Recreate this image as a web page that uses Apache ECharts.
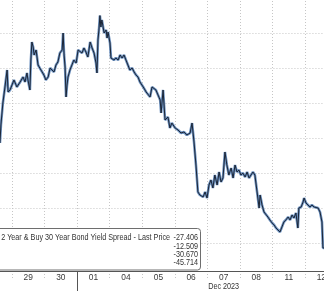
<!DOCTYPE html>
<html><head><meta charset="utf-8">
<script src="https://cdn.jsdelivr.net/npm/echarts/dist/echarts.min.js"></script>
<style>html,body{margin:0;padding:0;background:#fff;overflow:hidden}#c{width:324px;height:291px}</style>
</head><body><div id="c"></div>
<script>
// ---- data ----
const dayLabels = ['28','29','30','01','04','05','06','07','08','11','12'];
const monthLabel = 'Dec 2023';
const monthStartIndex = 3;      // first day of December in dayLabels
const monthLabelIndex = 7;      // month label is written under this day
const seriesName = 'Sell 2 Year & Buy 30 Year Bond Yield Spread - Last Price';
const legendValues = ['-27.406', '-12.509', '-30.670', '-45.714'];

// time in trading days from the start of Nov 28 (day index on the axis)
const times = [
 0.63,0.66,0.72,0.78,0.85,0.88,0.94,1.00,1.06,1.15,1.25,1.34,1.40,1.46,1.49,1.55,1.58,1.61,1.65,1.68,
 1.74,1.80,1.89,1.98,2.04,2.11,2.17,2.23,2.29,2.35,2.41,2.47,2.54,2.57,2.60,2.63,2.66,2.69,2.72,2.78,
 2.84,2.90,2.97,3.03,3.09,3.15,3.21,3.27,3.33,3.40,3.46,3.52,3.58,3.61,3.64,3.67,3.70,3.73,3.76,3.83,
 3.89,3.92,3.95,4.01,4.04,4.07,4.13,4.19,4.26,4.32,4.38,4.44,4.50,4.56,4.62,4.69,4.75,4.81,4.87,4.93,
 4.99,5.05,5.12,5.18,5.24,5.30,5.36,5.42,5.48,5.55,5.58,5.64,5.70,5.79,5.85,5.91,6.01,6.10,6.19,6.28,
 6.37,6.47,6.53,6.59,6.65,6.71,6.77,6.87,6.93,6.99,7.05,7.11,7.17,7.23,7.30,7.36,7.42,7.48,7.54,7.60,
 7.66,7.73,7.79,7.85,7.91,7.97,8.03,8.09,8.16,8.22,8.28,8.34,8.40,8.46,8.52,8.59,8.62,8.68,8.74,8.80,
 8.86,8.92,8.99,9.05,9.11,9.17,9.23,9.29,9.35,9.41,9.48,9.54,9.60,9.66,9.72,9.78,9.81,9.88,9.94,9.97,
 10.03,10.09,10.15,10.21,10.28,10.34,10.40,10.46,10.52,10.55,10.60
];
const spread = [
 -30.71,-28.14,-25.00,-22.86,-20.29,-23.43,-23.14,-22.43,-21.71,-22.71,-22.00,-21.29,-22.00,-20.71,-21.71,-23.14,-18.86,-16.29,-17.00,-18.14,
 -17.43,-19.57,-20.29,-21.00,-21.71,-21.29,-20.00,-19.86,-20.57,-19.57,-19.14,-17.86,-17.43,-15.00,-18.14,-19.86,-24.14,-22.43,-21.29,-20.29,
 -20.57,-18.86,-19.29,-17.43,-17.43,-17.86,-17.14,-17.71,-18.43,-16.29,-17.14,-17.86,-19.29,-20.71,-16.00,-14.57,-12.51,-14.14,-13.14,-15.00,
 -14.57,-15.71,-14.86,-16.43,-18.57,-18.43,-18.86,-18.57,-18.86,-18.14,-18.57,-18.14,-18.86,-19.57,-20.29,-20.00,-20.57,-21.00,-21.29,-22.00,
 -22.43,-22.86,-23.43,-23.57,-24.14,-22.71,-22.86,-23.14,-23.14,-24.57,-26.43,-23.14,-27.43,-27.00,-28.57,-27.86,-28.57,-28.86,-29.29,-29.14,
 -29.57,-29.29,-27.86,-30.57,-33.86,-37.71,-38.14,-38.43,-37.71,-38.57,-36.71,-36.00,-37.14,-35.29,-36.71,-34.86,-36.29,-35.71,-32.00,-33.86,
 -35.29,-34.29,-35.71,-33.86,-34.86,-34.57,-35.29,-35.00,-35.57,-34.86,-35.71,-35.29,-34.86,-35.29,-35.57,-40.00,-38.14,-39.57,-40.57,-40.29,
 -41.29,-41.71,-42.14,-42.43,-42.86,-43.14,-43.43,-42.71,-42.00,-41.71,-41.29,-41.71,-41.00,-41.43,-40.71,-42.86,-40.00,-39.86,-39.14,-38.57,
 -39.29,-39.57,-39.86,-39.57,-39.86,-39.86,-40.00,-40.57,-42.00,-45.71,-45.71
];

// ---- chart ----
const FONT = "'Liberation Sans', 'Arial', sans-serif";
const chart = echarts.init(document.getElementById('c'), null, {renderer: 'canvas'});
const points = times.map((t, i) => [t, spread[i]]);
const gridColor = '#c6c6c6';
const yTicks = 9;
const splitColors = ['rgba(0,0,0,0)'].concat(new Array(yTicks).fill(gridColor));

chart.setOption({
  animation: false,
  backgroundColor: '#ffffff',
  grid: {left: -20.56, right: -13.6, top: -2, bottom: 13, containLabel: false, outerBoundsMode: 'none'},
  xAxis: [{
    type: 'category', data: dayLabels, boundaryGap: true, offset: -7,
    axisLine: {show: true, lineStyle: {color: '#555', width: 1}},
    axisTick: {show: false},
    axisLabel: {interval: 0, margin: 3, fontSize: 8.4, color: '#3a3a3a', fontFamily: FONT, hideOverlap: false},
    splitLine: {show: true, interval: 0, lineStyle: {color: gridColor, type: [1, 2], width: 1}}
  }, {
    type: 'value', min: 0, max: dayLabels.length, show: false,
    splitLine: {show: false}
  }],
  yAxis: {
    type: 'value', min: -50, max: -10, interval: 5,
    axisLine: {show: false}, axisTick: {show: false}, axisLabel: {show: false},
    splitLine: {show: true, lineStyle: {color: splitColors, type: [1, 2], width: 1}}
  },
  series: [{
    type: 'line', xAxisIndex: 1, data: points, showSymbol: false, silent: true,
    lineStyle: {color: '#6f93c0', width: 2.6}, z: 2
  }, {
    type: 'line', xAxisIndex: 1, data: points, showSymbol: false, silent: true,
    lineStyle: {color: '#1b2536', width: 1}, z: 3
  }]
});

const xMonth = chart.convertToPixel({xAxisIndex: 1}, monthStartIndex);
const xMonthLabel = chart.convertToPixel({xAxisIndex: 1}, monthLabelIndex + 0.5);
const axisY = 271;
const rowY = [238, 246.5, 254.5, 263];
const SX = 0.82;
function txt(x, y, text, align, z) {
  return {type: 'text', z: z, x: x, y: y, scaleX: SX,
    style: {x: 0, y: 0, text: text, align: align, verticalAlign: 'middle',
      fontSize: 8.8, fontFamily: FONT, fill: '#333'}};
}
const legendTexts = legendValues.map((v, i) => txt(198, rowY[i], v, 'right', 101));
chart.setOption({
  graphic: [
    {type: 'line', z: 50, shape: {x1: Math.round(xMonth) + 0.5, y1: axisY, x2: Math.round(xMonth) + 0.5, y2: 291},
     style: {stroke: '#555', lineWidth: 1}},
    txt(xMonthLabel, 287, monthLabel, 'center', 50),
    {type: 'rect', z: 100, shape: {x: -5.5, y: 228.5, width: 206, height: 41.5, r: 3},
     style: {fill: '#fff', stroke: '#6e6e6e', lineWidth: 1}},
    txt(170, rowY[0], seriesName, 'right', 101)
  ].concat(legendTexts)
});
</script></body></html>
